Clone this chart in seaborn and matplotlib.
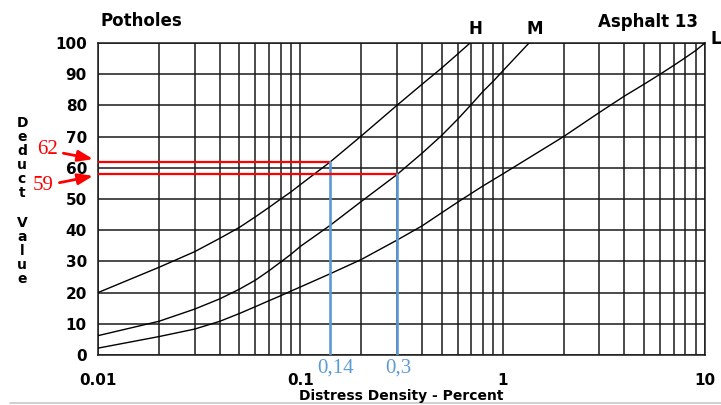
import numpy as np
import pandas as pd
import matplotlib
matplotlib.use("Agg")
import matplotlib.pyplot as plt
from matplotlib.lines import Line2D
from matplotlib.ticker import FixedLocator, NullFormatter
import seaborn as sns

# -------------------------------
# Data
# -------------------------------
h_density = [0.01, 0.02, 0.03, 0.04, 0.05, 0.06, 0.07, 0.08, 0.09, 0.1,
             0.14, 0.2, 0.3, 0.4, 0.5, 0.6, 0.69]
h_deduct = [20, 28.1, 33.1, 37.4, 40.9, 44.3, 47.3, 50, 52.3, 54.6,
            61.8, 70.2, 80, 86.8, 92, 96.5, 100]

m_density = [0.01, 0.02, 0.03, 0.04, 0.05, 0.06, 0.07, 0.08, 0.09, 0.1,
             0.14, 0.2, 0.3, 0.4, 0.5, 0.6, 0.7, 0.8, 0.9, 1.0, 1.35]
m_deduct = [6.2, 10.8, 14.7, 18, 21.1, 24, 27, 29.8, 32.3, 34.8,
            41.5, 49.2, 57.8, 64.7, 70.4, 75.6, 80.3, 84.5, 87.8, 91, 100]

l_density = [0.01, 0.02, 0.03, 0.04, 0.05, 0.06, 0.07, 0.08, 0.09, 0.1,
             0.14, 0.2, 0.3, 0.4, 0.5, 0.6, 0.7, 0.8, 1.0,
             2, 3, 4, 5, 6, 7, 8, 9, 10]
l_deduct = [2.2, 5.9, 8.3, 10.8, 13.3, 15.5, 17.4, 19, 20.5, 21.8,
            26, 30.6, 36.8, 41.4, 45.6, 49, 51.8, 54.2, 58,
            70, 77.7, 83, 86.8, 90, 92.8, 95.3, 97.6, 100]

curve_names = ["H", "M", "L"]

# reading lines
read_density = [0.14, 0.3]
read_deduct = [62, 58]
read_labels_y = ["62", "59"]
read_labels_x = ["0,14", "0,3"]

x_ticks = [0.01, 0.1, 1, 10]
x_ticklabels = ["0.01", "0.1", "1", "10"]
y_ticks = list(range(0, 101, 10))

df = pd.concat([
    pd.DataFrame({"density": h_density, "deduct": h_deduct, "curve": "H"}),
    pd.DataFrame({"density": m_density, "deduct": m_deduct, "curve": "M"}),
    pd.DataFrame({"density": l_density, "deduct": l_deduct, "curve": "L"}),
])

# -------------------------------
# Plot
# -------------------------------
sns.set_style("white")
plt.rcParams["font.family"] = ["DejaVu Sans"]
plt.rcParams["text.color"] = "black"

fig = plt.figure(figsize=(7.21, 4.05), dpi=100)
ax = fig.add_axes([98 / 721, 1 - 355 / 405, 607 / 721, 312 / 405])
ax.set_xscale("log")

sns.lineplot(data=df, x="density", y="deduct", hue="curve", hue_order=curve_names,
             palette=["black"] * 3, linewidth=1.0, legend=False, ax=ax, zorder=3)

ax.set_xlim(0.01, 10)
ax.set_ylim(0, 100)

ax.xaxis.set_major_locator(FixedLocator(x_ticks))
ax.set_xticklabels(x_ticklabels)
ax.xaxis.set_minor_locator(FixedLocator(
    [m * 10.0 ** e for e in range(-2, 1) for m in range(2, 10)]))
ax.xaxis.set_minor_formatter(NullFormatter())
ax.set_yticks(y_ticks)

grid_kw = dict(color="#1a1a1a", linewidth=1.1)
ax.grid(which="both", axis="x", **grid_kw)
ax.grid(which="major", axis="y", **grid_kw)
for s in ax.spines.values():
    s.set_color("#1a1a1a")
    s.set_linewidth(1.1)

ax.tick_params(axis="both", which="both", direction="out", length=6, width=1.1,
               color="#1a1a1a", labelsize=11, labelcolor="black")
ax.tick_params(axis="x", pad=7)
ax.tick_params(axis="y", pad=2)
for lab in ax.get_xticklabels() + ax.get_yticklabels():
    lab.set_fontweight("bold")

ax.set_xlabel("")
ax.set_ylabel("")

# red horizontal + blue vertical reading lines
for xd, yd in zip(read_density, read_deduct):
    ax.plot([0.01, xd], [yd, yd], color="#ff0000", linewidth=1.6, zorder=4)
    ax.plot([xd, xd], [0, yd], color="#5b9bd5", linewidth=1.9, zorder=4)

# red labels with arrows (tips sit just left of the axis)
for lab, yd, dy, pos in zip(read_labels_y, read_deduct, [0.8, -0.6],
                            [(47, 255), (43, 219)]):
    ax.annotate(lab, xy=(-0.008, yd + dy), xycoords=("axes fraction", "data"),
                xytext=pos, textcoords="figure pixels", ha="center", va="center",
                color="#ff0000", fontsize=15, family="Liberation Serif",
                arrowprops=dict(arrowstyle="-|>,head_length=0.6,head_width=0.22",
                                color="#ff0000", linewidth=2.0, shrinkA=2, shrinkB=0),
                annotation_clip=False)

# blue labels under the x axis
for lab, xd, dx in zip(read_labels_x, read_density, [4, 1]):
    ax.annotate(lab, xy=(xd, 0), xytext=(dx, -9.5), textcoords="offset points",
                ha="center", va="center", color="#5b9bd5", fontsize=15,
                family="Liberation Serif", annotation_clip=False)

# titles and curve letters
fig.text(100 / 721, 1 - 21 / 405, "Potholes", fontsize=12, fontweight="bold",
         ha="left", va="center")
fig.text(648 / 721, 1 - 22 / 405, "Asphalt 13", fontsize=12, fontweight="bold",
         ha="center", va="center")
fig.text(475 / 721, 1 - 29 / 405, "H", fontsize=12, fontweight="bold", ha="center", va="center")
fig.text(535 / 721, 1 - 29 / 405, "M", fontsize=12, fontweight="bold", ha="center", va="center")
fig.text(711 / 721, 1 - 39 / 405, "L", fontsize=12, fontweight="bold", ha="left", va="center")

# axis titles
fig.text(401 / 721, 1 - 396 / 405, "Distress Density - Percent", fontsize=10,
         fontweight="bold", ha="center", va="center")
ylab = "Deduct Value"
ypix = 123
for ch in ylab:
    if ch == " ":
        ypix += 16
        continue
    fig.text(22 / 721, 1 - ypix / 405, ch, fontsize=10, fontweight="bold",
             ha="center", va="center")
    ypix += 14

# faint bottom rule
fig.add_artist(Line2D([10 / 721, 1], [1 - 403 / 405] * 2, color="#c8c8c8",
                      linewidth=1.2, transform=fig.transFigure))

fig.savefig("out.png", dpi=100)
